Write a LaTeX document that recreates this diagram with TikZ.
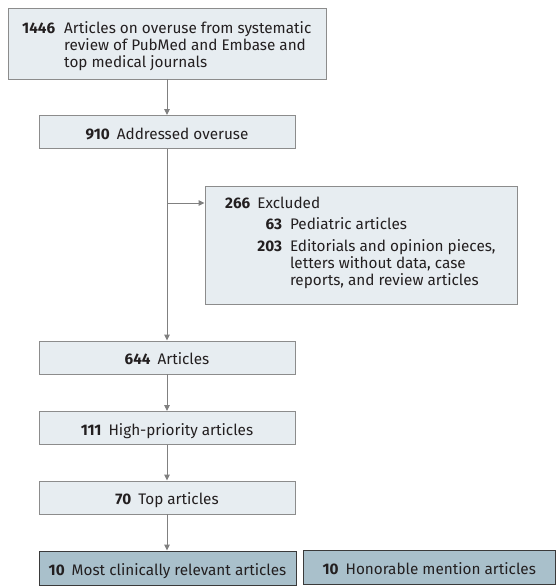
\documentclass[tikz,border=0pt]{standalone}
\usepackage{fontspec}
\setmainfont{Fira Sans}
\usetikzlibrary{arrows.meta}
\definecolor{boxfill}{HTML}{E7EDF1}
\definecolor{boxline}{HTML}{8C8C8C}
\definecolor{darkfill}{HTML}{A9C0CB}
\definecolor{darkline}{HTML}{3A3A3A}
\definecolor{arrc}{HTML}{808080}
\definecolor{txt}{HTML}{231F20}
\begin{document}
\begin{tikzpicture}[x=1pt,y=-1pt,
  every node/.style={font=\fontsize{15.3}{17}\selectfont, text=txt},
  box/.style={draw=boxline, fill=boxfill, line width=0.9pt, inner sep=0pt},
  single/.style={box, minimum width=256pt, minimum height=33pt, text height=14pt, text depth=0pt},
  dark/.style={draw=darkline, fill=darkfill, line width=1pt, inner sep=0pt, minimum height=34pt, text height=14pt, text depth=0pt},
  arr/.style={draw=arrc, line width=1pt, -{Triangle[length=6pt,width=5.5pt]}},
  label/.style={inner sep=0pt, anchor=base west}]
\useasboundingbox (0,0) rectangle (556,586);
% top box
\node[box, minimum width=318pt, minimum height=71pt] (b1) at (167,43.5) {};
\node[label] (t1) at (22,33.5) {\begin{tabular}[t]{@{}l@{\hspace{9pt}}l@{}}\textbf{1446} & Articles on overuse from systematic\\ & review of PubMed and Embase and\\ & top medical journals\end{tabular}};
\node[single] (b2) at (167,132) {\textbf{910}\hspace{7pt}Addressed overuse};
% excluded
\node[box, minimum width=312pt, minimum height=118pt] (exc) at (361,245) {};
\node[label] (t2) at (225,208.5) {\begin{tabular}[t]{@{}l@{\hspace{7pt}}r@{\hspace{8pt}}l@{}}
\textbf{266} & \multicolumn{2}{@{}l@{}}{Excluded}\\[4pt]
 & \textbf{63} & Pediatric articles\\[5pt]
 & \textbf{203} & Editorials and opinion pieces,\\
 & & letters without data, case\\
 & & reports, and review articles
\end{tabular}};
\node[single] (b3) at (167,357.5) {\textbf{644}\hspace{7pt}Articles};
\node[single] (b4) at (167,428) {\textbf{111}\hspace{7pt}High-priority articles};
\node[single] (b5) at (167,497.5) {\textbf{70}\hspace{7pt}Top articles};
\node[dark, minimum width=257pt] (b6) at (167.5,568) {\textbf{10}\hspace{7pt}Most clinically relevant articles};
\node[dark, minimum width=252.5pt] (b7) at (429.25,567.5) {\textbf{10}\hspace{7pt}Honorable mention articles};
% connectors
\draw[arr] (b1.south) -- (b2.north);
\draw[arr] (b2.south) -- (b3.north);
\coordinate (br) at (167,203);
\draw[arr] (br) -- (br -| exc.west);
\draw[arr] (b3.south) -- (b4.north);
\draw[arr] (b4.south) -- (b5.north);
\draw[arr] (b5.south) -- (b5.south |- b6.north);
\end{tikzpicture}
\end{document}
